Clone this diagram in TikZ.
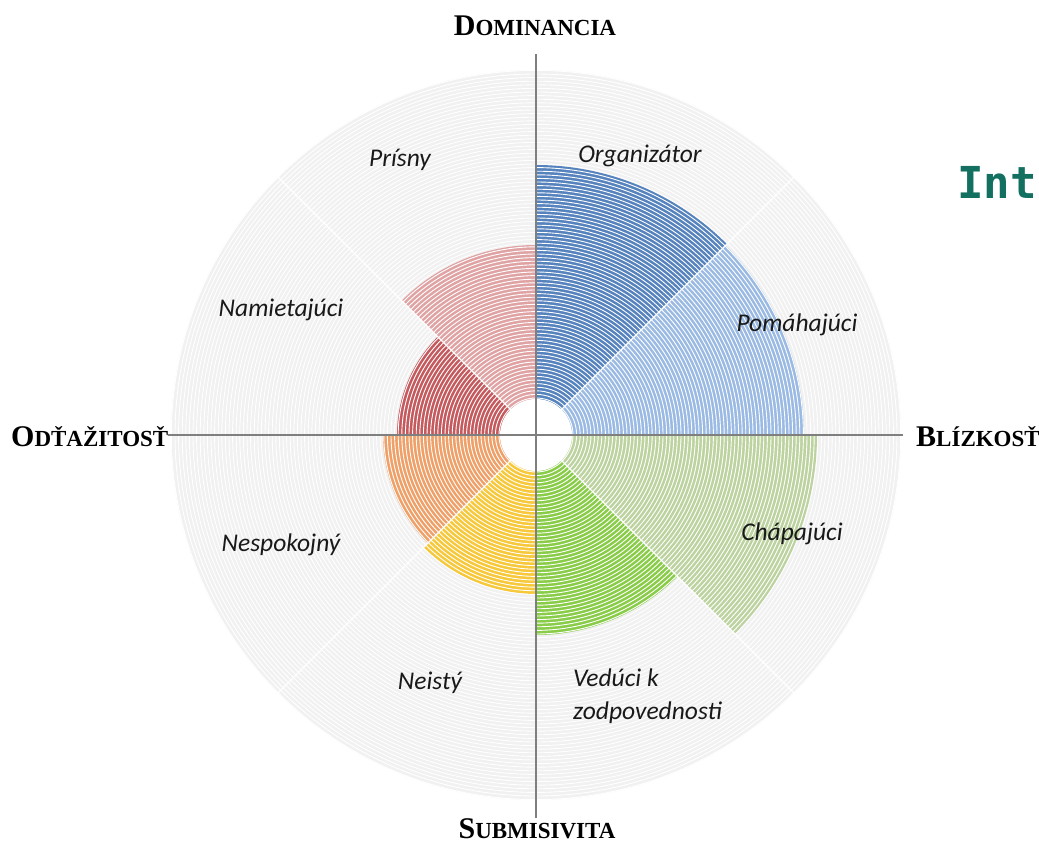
\documentclass[tikz,border=0pt]{standalone}
\usepackage{fontspec}
\setmainfont{Liberation Serif}
\newfontfamily\lblfont{Carlito}
\newfontfamily\monofont{DejaVu Sans Mono}
\definecolor{axisgray}{HTML}{7F7F7F}
\definecolor{bggray}{HTML}{F1F1F1}
\definecolor{cOrg}{HTML}{5683BD}
\definecolor{cPom}{HTML}{9ABAE3}
\definecolor{cCha}{HTML}{BCD3A0}
\definecolor{cVed}{HTML}{88CC48}
\definecolor{cNei}{HTML}{F6C83A}
\definecolor{cNes}{HTML}{EFA068}
\definecolor{cNam}{HTML}{C55A5E}
\definecolor{cPri}{HTML}{E0A3A4}
\definecolor{teal}{HTML}{137060}
\tikzset{
  axisline/.style={draw=axisgray, line width=2.5pt},
  seclabel/.style={font=\lblfont\itshape\fontsize{25.5}{29}\selectfont, text=black!90, inner sep=0pt},
  axislabel/.style={font=\bfseries, text=black, inner sep=0pt},
  ring/.style={draw=white, line width=0.9pt},
  sep/.style={draw=white, line width=1.2pt}
}
\newcommand\sectorfill[4]{% color, a1, a2, r
  \fill[#1] (C) -- ++(#2:#4) arc[start angle=#2, end angle=#3, radius=#4] -- cycle;}
\newcommand\axtext[2]{{\fontsize{30}{32}\selectfont #1}{\fontsize{23}{26}\selectfont #2}}
\begin{document}
\begin{tikzpicture}[x=1pt,y=1pt]
\useasboundingbox (0,0) rectangle (1039,-848);
\clip (0,0) rectangle (1039,-848);
\coordinate (C) at (536,-435);
% background disc
\fill[bggray] (C) circle[radius=365];
% sectors
\sectorfill{cOrg}{45}{90}{270}
\sectorfill{cPom}{0}{45}{268}
\sectorfill{cCha}{-45}{0}{281}
\sectorfill{cVed}{-90}{-45}{200}
\sectorfill{cNei}{-135}{-90}{159}
\sectorfill{cNes}{180}{225}{153}
\sectorfill{cNam}{135}{180}{139}
\sectorfill{cPri}{90}{135}{190}
% ring texture
\foreach \r in {37,40.6,...,366} \draw[ring] (C) circle[radius=\r];
% separators
\foreach \a in {0,45,...,315} \draw[sep] (C) -- ++(\a:366);
% hole
\fill[white] (C) circle[radius=36];
% axes
\coordinate (top) at (536,-54);
\coordinate (bot) at (536,-818);
\coordinate (lft) at (168,-435);
\coordinate (rgt) at (903,-435);
\draw[axisline] (top) -- (bot);
\draw[axisline] (lft) -- (rgt);
% axis labels
\node[axislabel, anchor=base] (dom) at (535,-36) {\axtext{D}{OMINANCIA}};
\node[axislabel, anchor=base] (sub) at (537,-838) {\axtext{S}{UBMISIVITA}};
\node[axislabel, anchor=base west] (odt) at (11,-446) {\axtext{O}{DŤAŽITOSŤ}};
\node[axislabel, anchor=base west] (bli) at (916,-446) {\axtext{B}{LÍZKOSŤ}};
% sector labels
\node[seclabel, anchor=base] (pri) at (400,-167) {Prísny};
\node[seclabel, anchor=base] (org) at (640,-163) {Organizátor};
\node[seclabel, anchor=base] (nam) at (281,-316) {Namietajúci};
\node[seclabel, anchor=base] (pom) at (797,-331) {Pomáhajúci};
\node[seclabel, anchor=base] (nes) at (281,-551) {Nespokojný};
\node[seclabel, anchor=base] (cha) at (792,-540) {Chápajúci};
\node[seclabel, anchor=base] (nei) at (430,-689) {Neistý};
\node[seclabel, anchor=base west] (ved1) at (573,-686) {Vedúci k};
\node[seclabel, anchor=base west] (ved2) at (573,-719) {zodpovednosti};
% cropped title
\node[font=\monofont\bfseries\fontsize{44}{48}\selectfont, text=teal, anchor=base west, inner sep=0pt] (title) at (957,-198) {Int};
\end{tikzpicture}
\end{document}
